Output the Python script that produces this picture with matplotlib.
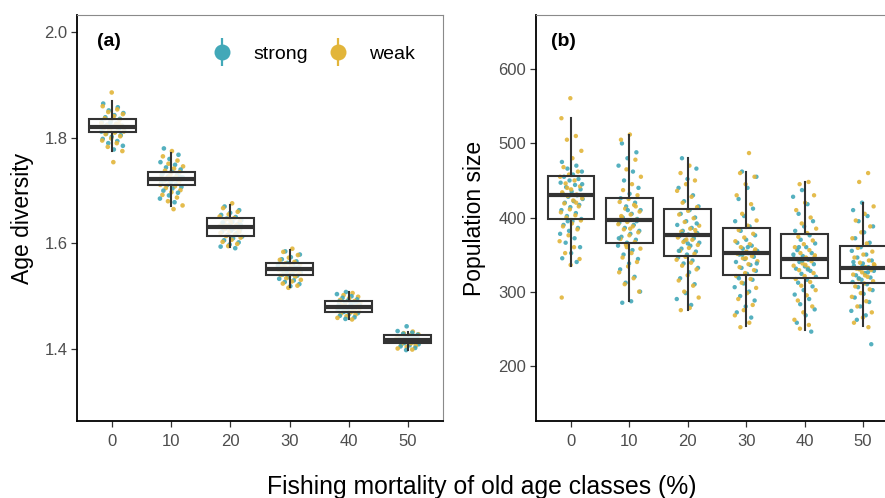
import numpy as np
import matplotlib
matplotlib.use("Agg")
import matplotlib.pyplot as plt
from matplotlib.lines import Line2D

plt.rcParams['font.family'] = ['Liberation Sans', 'DejaVu Sans']

# ---------------- data ----------------
categories = ['0', '10', '20', '30', '40', '50']
series = ['strong', 'weak']
colors = {'strong': '#42A8B8', 'weak': '#E2B53A'}

# Panel (a): Age diversity -- box statistics
age_whislo = [1.775, 1.6715, 1.594, 1.517, 1.456, 1.398]
age_q1 = [1.811, 1.711, 1.615, 1.540, 1.4706, 1.4108]
age_med = [1.821, 1.7215, 1.6317, 1.551, 1.480, 1.418]
age_q3 = [1.835, 1.735, 1.6476, 1.562, 1.491, 1.4265]
age_whishi = [1.870, 1.771, 1.673, 1.5875, 1.5085, 1.4327]

# Panel (a): individual runs
age_strong = [
    [1.865, 1.858, 1.852, 1.847, 1.843, 1.839, 1.836, 1.833, 1.830, 1.827, 1.825, 1.823, 1.821, 1.819, 1.817,
     1.815, 1.813, 1.811, 1.808, 1.805, 1.802, 1.798, 1.794, 1.790, 1.785, 1.778, 1.822, 1.818, 1.829, 1.812],
    [1.780, 1.768, 1.760, 1.754, 1.749, 1.744, 1.740, 1.736, 1.733, 1.730, 1.727, 1.725, 1.723, 1.721, 1.719,
     1.717, 1.715, 1.713, 1.710, 1.707, 1.704, 1.700, 1.696, 1.691, 1.685, 1.678, 1.720, 1.726, 1.716, 1.731],
    [1.670, 1.663, 1.658, 1.654, 1.650, 1.647, 1.644, 1.641, 1.638, 1.636, 1.634, 1.632, 1.630, 1.628, 1.626,
     1.624, 1.622, 1.619, 1.616, 1.613, 1.610, 1.606, 1.602, 1.598, 1.594, 1.591, 1.631, 1.635, 1.627, 1.640],
    [1.585, 1.579, 1.574, 1.570, 1.566, 1.563, 1.561, 1.559, 1.557, 1.555, 1.553, 1.551, 1.549, 1.547, 1.545,
     1.543, 1.541, 1.539, 1.536, 1.533, 1.530, 1.527, 1.523, 1.519, 1.550, 1.554, 1.546, 1.558, 1.542, 1.552],
    [1.508, 1.504, 1.500, 1.497, 1.494, 1.492, 1.490, 1.488, 1.486, 1.484, 1.482, 1.480, 1.478, 1.476, 1.474,
     1.472, 1.470, 1.468, 1.466, 1.463, 1.460, 1.457, 1.481, 1.485, 1.477, 1.489, 1.473, 1.483, 1.479, 1.471],
    [1.443, 1.434, 1.431, 1.429, 1.427, 1.425, 1.423, 1.421, 1.420, 1.419, 1.418, 1.417, 1.416, 1.415, 1.414,
     1.413, 1.411, 1.409, 1.407, 1.405, 1.402, 1.398, 1.418, 1.421, 1.415, 1.424, 1.412, 1.419, 1.416, 1.422],
]
age_weak = [
    [1.886, 1.860, 1.854, 1.849, 1.845, 1.841, 1.837, 1.834, 1.831, 1.828, 1.826, 1.824, 1.822, 1.820, 1.818,
     1.816, 1.814, 1.812, 1.810, 1.807, 1.803, 1.799, 1.795, 1.790, 1.783, 1.775, 1.754, 1.821, 1.826, 1.815],
    [1.775, 1.765, 1.757, 1.751, 1.746, 1.742, 1.738, 1.735, 1.732, 1.729, 1.726, 1.724, 1.722, 1.720, 1.718,
     1.716, 1.714, 1.711, 1.708, 1.705, 1.701, 1.697, 1.692, 1.687, 1.680, 1.672, 1.665, 1.722, 1.718, 1.728],
    [1.676, 1.667, 1.660, 1.655, 1.651, 1.648, 1.645, 1.642, 1.639, 1.637, 1.635, 1.633, 1.631, 1.629, 1.627,
     1.625, 1.623, 1.620, 1.617, 1.614, 1.611, 1.607, 1.603, 1.599, 1.595, 1.632, 1.628, 1.636, 1.622, 1.644],
    [1.590, 1.584, 1.578, 1.573, 1.569, 1.565, 1.562, 1.560, 1.558, 1.556, 1.554, 1.552, 1.550, 1.548, 1.546,
     1.544, 1.542, 1.540, 1.537, 1.534, 1.531, 1.528, 1.524, 1.520, 1.516, 1.551, 1.547, 1.555, 1.543, 1.549],
    [1.506, 1.502, 1.499, 1.496, 1.493, 1.491, 1.489, 1.487, 1.485, 1.483, 1.481, 1.479, 1.477, 1.475, 1.473,
     1.471, 1.469, 1.467, 1.465, 1.462, 1.459, 1.456, 1.480, 1.484, 1.476, 1.488, 1.472, 1.482, 1.478, 1.470],
    [1.433, 1.430, 1.428, 1.426, 1.424, 1.422, 1.421, 1.420, 1.419, 1.418, 1.417, 1.416, 1.415, 1.414, 1.413,
     1.412, 1.410, 1.408, 1.406, 1.404, 1.401, 1.399, 1.418, 1.420, 1.416, 1.423, 1.413, 1.417, 1.419, 1.411],
]

# Panel (b): Population size -- box statistics
pop_whislo = [334, 287, 275, 253, 248, 254]
pop_q1 = [398, 365, 348, 322, 319, 311]
pop_med = [430, 397, 377, 352, 344, 332]
pop_q3 = [456, 426, 412, 386, 378, 362]
pop_whishi = [534, 511, 480, 462, 448, 420]

# Panel (b): individual runs
pop_strong = [
    [475, 470, 466, 462, 458, 455, 452, 450, 447, 444, 441, 438, 435, 432, 430, 428, 425, 422, 420, 417,
     414, 410, 406, 402, 398, 395, 390, 386, 382, 378, 372, 366, 360, 352, 345, 340, 395, 445],
    [500, 488, 480, 470, 462, 450, 440, 432, 426, 420, 415, 410, 405, 400, 398, 396, 393, 390, 386, 382,
     378, 374, 370, 366, 362, 356, 350, 344, 338, 330, 320, 312, 300, 287, 285, 395, 410, 372],
    [480, 466, 452, 440, 430, 422, 415, 410, 405, 400, 395, 390, 386, 382, 379, 377, 375, 372, 369, 366,
     362, 358, 354, 350, 346, 342, 338, 332, 326, 318, 310, 298, 290, 282, 378, 392, 365, 355],
    [462, 455, 440, 425, 412, 402, 395, 388, 382, 376, 370, 366, 362, 358, 355, 352, 350, 347, 344, 340,
     336, 332, 328, 324, 320, 316, 311, 306, 300, 294, 288, 280, 272, 265, 350, 338, 360, 318],
    [437, 428, 418, 405, 395, 388, 382, 376, 370, 365, 360, 356, 352, 348, 345, 343, 340, 337, 334, 331,
     328, 324, 320, 316, 312, 307, 302, 296, 290, 283, 276, 268, 258, 246, 342, 350, 330, 360],
    [420, 410, 402, 395, 388, 380, 372, 366, 360, 355, 350, 346, 342, 338, 335, 333, 331, 328, 325, 322,
     319, 316, 313, 310, 306, 302, 297, 292, 286, 280, 274, 268, 262, 229, 334, 340, 326, 318],
]
pop_weak = [
    [561, 534, 510, 505, 490, 480, 468, 462, 458, 455, 450, 446, 442, 438, 434, 431, 429, 426, 423, 419,
     415, 411, 407, 403, 400, 396, 392, 388, 384, 376, 368, 360, 352, 344, 336, 292, 420, 440],
    [512, 505, 478, 465, 455, 445, 437, 430, 425, 421, 417, 412, 408, 404, 400, 397, 394, 391, 388, 384,
     380, 376, 371, 367, 363, 358, 352, 346, 340, 334, 326, 318, 310, 300, 385, 402, 415, 360],
    [470, 460, 450, 445, 436, 428, 420, 414, 409, 404, 399, 394, 389, 385, 381, 378, 376, 373, 370, 367,
     363, 359, 355, 351, 347, 343, 339, 335, 330, 322, 315, 308, 300, 292, 278, 275, 383, 370],
    [487, 460, 455, 445, 430, 418, 405, 396, 389, 383, 378, 373, 368, 364, 360, 357, 354, 351, 348, 345,
     341, 337, 333, 329, 325, 321, 317, 312, 305, 298, 290, 282, 275, 268, 258, 252, 355, 345],
    [448, 445, 430, 420, 410, 400, 392, 385, 379, 374, 369, 364, 360, 356, 352, 349, 346, 344, 341, 338,
     335, 332, 329, 325, 321, 317, 313, 308, 302, 295, 288, 280, 272, 262, 255, 250, 346, 336],
    [460, 448, 415, 405, 396, 388, 380, 372, 365, 359, 354, 350, 346, 342, 339, 336, 333, 331, 329, 326,
     323, 320, 317, 314, 311, 307, 303, 298, 293, 287, 280, 272, 265, 258, 252, 330, 337, 322],
]

# ---------------- drawing ----------------
W, H = 885, 498
fig = plt.figure(figsize=(W / 100, H / 100), dpi=100)

ax_a = fig.add_axes([77 / W, (H - 421) / H, 366 / W, 406 / H])
ax_b = fig.add_axes([536 / W, (H - 421) / H, 362 / W, 406 / H])

JIT = 0.2
BOX_EDGE = '#333333'


def jitter(n, phase):
    k = np.arange(n)
    frac = (k * 0.6180339887 + phase) % 1.0
    return (frac - 0.5) * 2 * JIT


def draw_panel(ax, strong, weak, whislo, q1, med, q3, whishi, box_face, box_alpha, psize):
    xs, ys, cs = [], [], []
    for i in range(len(categories)):
        pos = i + 1
        s = np.asarray(strong[i]); w = np.asarray(weak[i])
        js = jitter(len(s), 0.11 + 0.07 * i)
        jw = jitter(len(w), 0.47 + 0.05 * i)
        n = max(len(s), len(w))
        for k in range(n):
            if k < len(s):
                xs.append(pos + js[k]); ys.append(s[k]); cs.append(colors['strong'])
            if k < len(w):
                xs.append(pos + jw[k]); ys.append(w[k]); cs.append(colors['weak'])
    ax.scatter(xs, ys, s=psize, c=cs, alpha=0.9, linewidths=0, zorder=2)

    stats = []
    for i in range(len(categories)):
        stats.append(dict(whislo=whislo[i], q1=q1[i], med=med[i], q3=q3[i], whishi=whishi[i]))
    bp = ax.bxp(stats, positions=range(1, len(categories) + 1), widths=0.8, showfliers=False,
                showcaps=False, patch_artist=True,
                boxprops=dict(facecolor=box_face, edgecolor=BOX_EDGE, linewidth=1.5),
                whiskerprops=dict(color=BOX_EDGE, linewidth=1.5),
                medianprops=dict(color=BOX_EDGE, linewidth=3.0, solid_capstyle='butt'),
                manage_ticks=False, zorder=3)
    for b in bp['boxes']:
        b.set_facecolor(matplotlib.colors.to_rgba(box_face, box_alpha))
        b.set_edgecolor(BOX_EDGE)

    ax.set_xlim(0.4, 6.6)
    ax.set_xticks(range(1, len(categories) + 1))
    ax.set_xticklabels(categories)
    for side in ['left', 'bottom']:
        ax.spines[side].set_color('black')
        ax.spines[side].set_linewidth(1.3)
    for side in ['top', 'right']:
        ax.spines[side].set_color('#8a8a8a')
        ax.spines[side].set_linewidth(0.8)
    ax.tick_params(axis='both', length=4, width=0.9, color='#333333', labelcolor='#4D4D4D',
                   labelsize=12, pad=3)
    ax.tick_params(axis='x', pad=5)


draw_panel(ax_a, age_strong, age_weak, age_whislo, age_q1, age_med, age_q3, age_whishi, 'white', 0.85, 11)
draw_panel(ax_b, pop_strong, pop_weak, pop_whislo, pop_q1, pop_med, pop_q3, pop_whishi, 'white', 0.0, 10)

ax_a.set_ylim(1.2636, 2.0328)
ax_a.set_yticks([1.4, 1.6, 1.8, 2.0])
ax_a.set_yticklabels(['1.4', '1.6', '1.8', '2.0'])
ax_b.set_ylim(125.4, 673.3)
ax_b.set_yticks([200, 300, 400, 500, 600])

ax_a.set_ylabel('Age diversity', fontsize=16.5)
ax_a.yaxis.set_label_coords((22 - 77) / 366, 0.5)
ax_a.yaxis.label.set_verticalalignment('center')
ax_b.set_ylabel('Population size', fontsize=16.5)
ax_b.yaxis.set_label_coords((475 - 536) / 362, 0.5)
ax_b.yaxis.label.set_verticalalignment('center')

ax_a.text((97 - 77) / 366, (421 - 42) / 406, '(a)', transform=ax_a.transAxes, fontsize=14,
          fontweight='bold', ha='left', va='center')
ax_b.text((551 - 536) / 362, (421 - 42) / 406, '(b)', transform=ax_b.transAxes, fontsize=14,
          fontweight='bold', ha='left', va='center')

fig.text(481.5 / W, 1 - 487 / H, 'Fishing mortality of old age classes (%)', fontsize=17.8,
         ha='center', va='center')

handles = []
for sname in series:
    c = colors[sname]
    h_line = Line2D([], [], linestyle='none', marker='|', markersize=20, markeredgewidth=1.6, color=c)
    h_pt = Line2D([], [], linestyle='none', marker='o', markersize=11.5, color=c, markeredgewidth=0)
    handles.append((h_line, h_pt))
ax_a.legend(handles, series, loc='center left', bbox_to_anchor=((202.5 - 77) / 366, (421 - 54) / 406),
            ncol=2, frameon=False, fontsize=14, handlelength=2.0, handletextpad=0.6,
            columnspacing=0.55, borderpad=0, borderaxespad=0)

fig.savefig('out.png', dpi=100)
